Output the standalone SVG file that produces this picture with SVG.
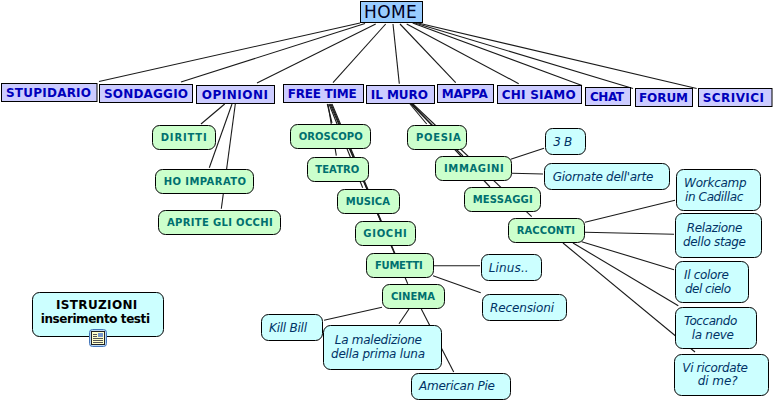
<svg xmlns="http://www.w3.org/2000/svg" width="774" height="402" viewBox="0 0 774 402">
<style>
text{font-family:"DejaVu Sans","Liberation Sans",sans-serif}
.c line{stroke:#1a1a1a;stroke-width:1.1;fill:none}
.h rect{fill:#99ccff;stroke:#000;stroke-width:1}
.h text{font-size:17px;fill:#000022}
.t rect{fill:#ccccff;stroke:#000;stroke-width:1}
.t text{font-size:12px;font-weight:bold;fill:#0000bb}
.g rect{fill:#ccffcc;stroke:#000;stroke-width:1}
.g text{font-size:10px;font-weight:bold;fill:#006f6f}
.b rect{fill:#ccffff;stroke:#000;stroke-width:1}
.b text{font-size:12px;font-style:italic;fill:#003366}
.i text{font-size:12px;font-weight:bold;font-style:normal;fill:#000}
.i .ib{fill:#b8d8f8;stroke:#4477bb}
.i .in{fill:#ffffcc;stroke:#222}
.i .ip{fill:#7799cc;stroke:none}
.i .il{fill:none;stroke:#555;stroke-width:1}
</style>
<rect width="774" height="402" fill="#fff"/>
<g id="connectors" class="c">
<line x1="360" y1="23" x2="99" y2="81.5"/>
<line x1="365" y1="23.5" x2="181" y2="82"/>
<line x1="375.7" y1="24" x2="257" y2="83"/>
<line x1="385.7" y1="24" x2="333" y2="82.7"/>
<line x1="393" y1="24" x2="399.3" y2="83.7"/>
<line x1="400" y1="24" x2="455.7" y2="82.7"/>
<line x1="406.7" y1="24" x2="518.7" y2="83.7"/>
<line x1="412.7" y1="23" x2="582" y2="85.5"/>
<line x1="415" y1="23" x2="633" y2="88.5"/>
<line x1="418" y1="23" x2="696.7" y2="88.5"/>
<line x1="224.7" y1="104" x2="201" y2="124"/>
<line x1="232" y1="104" x2="209.3" y2="167.7"/>
<line x1="235.3" y1="104" x2="221.3" y2="208.7"/>
<line x1="327.3" y1="104" x2="332" y2="123"/>
<line x1="328" y1="104" x2="336.3" y2="155.7"/>
<line x1="329" y1="104" x2="362.7" y2="187.7"/>
<line x1="330" y1="104" x2="380.7" y2="221"/>
<line x1="331" y1="104" x2="394.3" y2="253.3"/>
<line x1="332" y1="104" x2="407.7" y2="283.7"/>
<line x1="410" y1="104" x2="426.7" y2="124"/>
<line x1="411" y1="104" x2="463" y2="156"/>
<line x1="412" y1="104" x2="490" y2="187"/>
<line x1="413" y1="104" x2="531.7" y2="216.7"/>
<line x1="510.7" y1="159.3" x2="544" y2="148.3"/>
<line x1="512" y1="173.3" x2="543" y2="174"/>
<line x1="585" y1="222.3" x2="675" y2="200.3"/>
<line x1="585" y1="232.3" x2="674" y2="234.3"/>
<line x1="581.7" y1="241.7" x2="674" y2="269.7"/>
<line x1="573" y1="243" x2="678.3" y2="305.7"/>
<line x1="563" y1="243" x2="695" y2="352"/>
<line x1="434" y1="265.7" x2="480" y2="265.7"/>
<line x1="433" y1="275.7" x2="480.7" y2="292.7"/>
<line x1="382" y1="307.3" x2="324" y2="320.3"/>
<line x1="409" y1="309" x2="399" y2="323.7"/>
<line x1="421.3" y1="309" x2="453.7" y2="372"/>
</g>
<g id="home" class="h"><rect x="360.5" y="1.5" width="62" height="21"/><text x="364" y="17.5" textLength="52.7">HOME</text></g>
<g id="stupidario" class="t"><rect x="1.5" y="83.5" width="95.5" height="18"/><text x="6" y="96.7" textLength="85">STUPIDARIO</text></g>
<g id="sondaggio" class="t"><rect x="99.5" y="84.5" width="93" height="18"/><text x="104" y="98" textLength="84">SONDAGGIO</text></g>
<g id="opinioni" class="t"><rect x="196.5" y="85.5" width="78" height="18"/><text x="201.7" y="99" textLength="66.3">OPINIONI</text></g>
<g id="free-time" class="t"><rect x="283.5" y="84.5" width="80" height="18"/><text x="287.7" y="98" textLength="69">FREE TIME</text></g>
<g id="il-muro" class="t"><rect x="366.5" y="85.5" width="68" height="18"/><text x="370.7" y="99" textLength="57.3">IL MURO</text></g>
<g id="mappa" class="t"><rect x="437.5" y="84.5" width="56" height="18"/><text x="441.7" y="97.7" textLength="46">MAPPA</text></g>
<g id="chi-siamo" class="t"><rect x="497.5" y="85.5" width="84" height="18"/><text x="501.7" y="98.7" textLength="74">CHI SIAMO</text></g>
<g id="chat" class="t"><rect x="585.5" y="87.5" width="45" height="18"/><text x="590" y="101" textLength="34">CHAT</text></g>
<g id="forum" class="t"><rect x="635.5" y="88.5" width="57" height="18"/><text x="639" y="102" textLength="49">FORUM</text></g>
<g id="scrivici" class="t"><rect x="698.5" y="88.5" width="73.5" height="18"/><text x="702.7" y="102" textLength="61.3">SCRIVICI</text></g>
<g id="diritti" class="g"><rect x="152.5" y="125.5" width="63" height="24" rx="7"/><text x="160.7" y="141" textLength="46">DIRITTI</text></g>
<g id="ho-imparato" class="g"><rect x="155.5" y="169.5" width="98" height="24" rx="7"/><text x="163.7" y="185" textLength="82.3">HO IMPARATO</text></g>
<g id="aprite" class="g"><rect x="158.5" y="210.5" width="122" height="24" rx="7"/><text x="167" y="226" textLength="105.7">APRITE GLI OCCHI</text></g>
<g id="oroscopo" class="g"><rect x="290.5" y="124.5" width="80" height="24" rx="7"/><text x="298.7" y="140" textLength="64">OROSCOPO</text></g>
<g id="teatro" class="g"><rect x="307.5" y="157.5" width="61" height="24" rx="7"/><text x="315.3" y="173" textLength="44">TEATRO</text></g>
<g id="musica" class="g"><rect x="337.5" y="189.5" width="62" height="24" rx="7"/><text x="345.7" y="205" textLength="44.3">MUSICA</text></g>
<g id="giochi" class="g"><rect x="355.5" y="221.5" width="60" height="24" rx="7"/><text x="363.3" y="237" textLength="43.4">GIOCHI</text></g>
<g id="fumetti" class="g"><rect x="366.5" y="253.5" width="67" height="24" rx="7"/><text x="375" y="268.7" textLength="47.7">FUMETTI</text></g>
<g id="cinema" class="g"><rect x="382.5" y="284.5" width="62" height="24" rx="7"/><text x="391" y="299.7" textLength="44">CINEMA</text></g>
<g id="poesia" class="g"><rect x="407.5" y="125.5" width="59" height="24" rx="7"/><text x="416" y="140.7" textLength="44.7">POESIA</text></g>
<g id="immagini" class="g"><rect x="435.5" y="156.5" width="76" height="24" rx="7"/><text x="444" y="171.7" textLength="59.7">IMMAGINI</text></g>
<g id="messaggi" class="g"><rect x="464.5" y="187.5" width="76" height="24" rx="7"/><text x="472.7" y="202.7" textLength="60">MESSAGGI</text></g>
<g id="racconti" class="g"><rect x="508.5" y="218.5" width="76" height="24" rx="7"/><text x="516.7" y="234" textLength="58.3">RACCONTI</text></g>
<g id="tre-b" class="b"><rect x="545.5" y="128.5" width="40" height="26" rx="7"/><text x="553.3" y="145.7" textLength="19">3 B</text></g>
<g id="giornate" class="b"><rect x="544.5" y="163.5" width="125" height="26" rx="7"/><text x="552.7" y="180.7" textLength="100.6">Giornate dell'arte</text></g>
<g id="workcamp" class="b"><rect x="676.5" y="169.5" width="84" height="41" rx="7"/><text x="684" y="187" textLength="62.7">Workcamp</text><text x="685" y="201" textLength="58.3">in Cadillac</text></g>
<g id="relazione" class="b"><rect x="675.5" y="213.5" width="86" height="44" rx="7"/><text x="686.7" y="231.7" textLength="55.6">Relazione</text><text x="683" y="245.7" textLength="63">dello stage</text></g>
<g id="colore" class="b"><rect x="675.5" y="261.5" width="73" height="41" rx="7"/><text x="684" y="278.7" textLength="45">Il colore</text><text x="685" y="292.7" textLength="46">del cielo</text></g>
<g id="toccando" class="b"><rect x="675.5" y="307.5" width="81" height="41" rx="7"/><text x="684" y="324.7" textLength="53.3">Toccando</text><text x="691.7" y="338.7" textLength="42.3">la neve</text></g>
<g id="ricordate" class="b"><rect x="674.5" y="354.5" width="94" height="41" rx="7"/><text x="682.3" y="371.7" textLength="65.7">Vi ricordate</text><text x="697.7" y="385" textLength="40">di me?</text></g>
<g id="linus" class="b"><rect x="481.5" y="254.5" width="60" height="26" rx="7"/><text x="488.7" y="271.7" textLength="40">Linus..</text></g>
<g id="recensioni" class="b"><rect x="482.5" y="294.5" width="84" height="26" rx="7"/><text x="490" y="311.7" textLength="64">Recensioni</text></g>
<g id="kill-bill" class="b"><rect x="261.5" y="314.5" width="61" height="26" rx="7"/><text x="269" y="331.7" textLength="38">Kill Bill</text></g>
<g id="maledizione" class="b"><rect x="323.5" y="325.5" width="118" height="44" rx="7"/><text x="334.7" y="343.7" textLength="87.3">La maledizione</text><text x="331" y="357.7" textLength="94">della prima luna</text></g>
<g id="american-pie" class="b"><rect x="411.5" y="373.5" width="99" height="26" rx="7"/><text x="419" y="390.3" textLength="76">American Pie</text></g>
<g id="istruzioni" class="b i"><rect x="32.5" y="292.5" width="131" height="44" rx="7"/><text x="56" y="309" textLength="81.3">ISTRUZIONI</text><text x="40.7" y="323" textLength="109.3">inserimento testi</text>
<rect class="ib" x="89.5" y="329.5" width="17" height="17" rx="3"/>
<rect class="in" x="91.5" y="331.5" width="13" height="13"/>
<rect class="ip" x="98" y="333" width="5" height="4"/>
<path class="il" d="M93 334.5h4M93 336.5h4M93 338.5h10M93 340.5h10M93 342.5h10"/>
</g>
</svg>
